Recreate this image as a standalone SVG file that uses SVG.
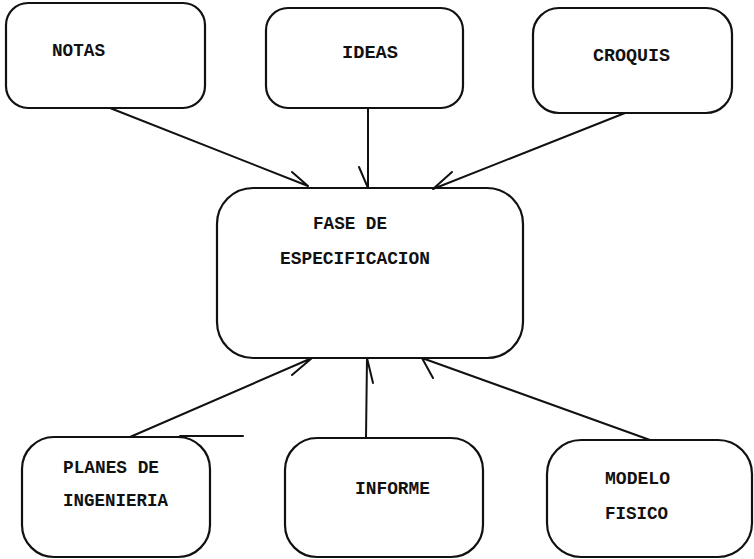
<svg xmlns="http://www.w3.org/2000/svg" width="754" height="559" viewBox="0 0 754 559">
<style>
.box{fill:none;stroke:#111;stroke-width:2.2}
.lbl{font-family:"Liberation Mono","Courier New",monospace;font-size:19px;font-weight:bold;fill:#111}
.ln{fill:none;stroke:#111;stroke-width:2;stroke-linecap:round;stroke-linejoin:round}
</style>
<rect width="754" height="559" fill="#fff"/>
<g id="connectors">
<path class="ln" d="M110,108 L308,186 M292,172 L308,186"/>
<path class="ln" d="M368,108 L368,188 M359,167 L368,188"/>
<path class="ln" d="M625,113 L433,189 M452,172 L433,189"/>
<path class="ln" d="M130,437 L312,358 M292,375 L312,358"/>
<path class="ln" d="M366,438 L367,358 M373,383 L367,358"/>
<path class="ln" d="M650,440 L422,358 M433,378 L422,358"/>
<path class="ln" d="M180,436 L243,436" stroke-width="1.5"/>
</g>
<g id="notas">
<rect class="box" x="6" y="3" width="199" height="105" rx="22" ry="22"/>
<text class="lbl" x="52" y="56" textLength="53" lengthAdjust="spacingAndGlyphs">NOTAS</text>
</g>
<g id="ideas">
<rect class="box" x="266" y="8" width="197" height="100" rx="22" ry="22"/>
<text class="lbl" x="342" y="58" textLength="56" lengthAdjust="spacingAndGlyphs">IDEAS</text>
</g>
<g id="croquis">
<rect class="box" x="533" y="8" width="199" height="105" rx="26" ry="26"/>
<text class="lbl" x="593" y="61" textLength="77" lengthAdjust="spacingAndGlyphs">CROQUIS</text>
</g>
<g id="fase">
<rect class="box" x="217" y="188" width="306" height="170" rx="36" ry="36"/>
<text class="lbl" x="313" y="229" textLength="74" lengthAdjust="spacingAndGlyphs">FASE DE</text>
<text class="lbl" x="280" y="264" textLength="150" lengthAdjust="spacingAndGlyphs">ESPECIFICACION</text>
</g>
<g id="planes">
<rect class="box" x="22" y="437" width="188" height="120" rx="32" ry="32"/>
<text class="lbl" x="63" y="473" textLength="96" lengthAdjust="spacingAndGlyphs">PLANES DE</text>
<text class="lbl" x="63" y="506" textLength="105" lengthAdjust="spacingAndGlyphs">INGENIERIA</text>
</g>
<g id="informe">
<rect class="box" x="285" y="438" width="198" height="119" rx="32" ry="32"/>
<text class="lbl" x="355" y="494" textLength="75" lengthAdjust="spacingAndGlyphs">INFORME</text>
</g>
<g id="modelo">
<rect class="box" x="547" y="440" width="205" height="117" rx="34" ry="34"/>
<text class="lbl" x="605" y="484" textLength="65" lengthAdjust="spacingAndGlyphs">MODELO</text>
<text class="lbl" x="605" y="519" textLength="63" lengthAdjust="spacingAndGlyphs">FISICO</text>
</g>
</svg>
